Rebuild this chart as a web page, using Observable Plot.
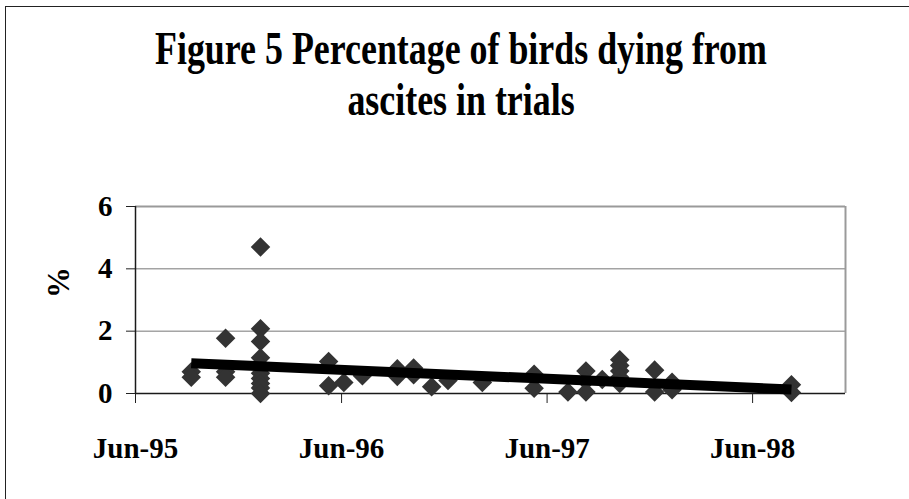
<!DOCTYPE html>
<html>
<head>
<meta charset="utf-8">
<script src="https://cdn.jsdelivr.net/npm/d3@7"></script>
<script src="https://cdn.jsdelivr.net/npm/@observablehq/plot@0.6"></script>
<style>
  body { margin: 0; background: #fff; }
  #wrap { position: relative; width: 909px; height: 499px; overflow: hidden; font-family: "Liberation Serif", "Times New Roman", serif; background: #fff; }
  #frame { position: absolute; left: 5px; top: 6px; width: 1200px; height: 1200px; border: 1px solid #222; box-sizing: border-box; }
  #title { position: absolute; left: 0; top: 23px; width: 922px; text-align: center; font-weight: bold; font-size: 46px; line-height: 51px; color: #000; white-space: nowrap; transform: scaleX(0.78); transform-origin: 461px 0; }
  #chart { position: absolute; left: 0; top: 0; }
</style>
</head>
<body>
<div id="wrap">
  <div id="frame"></div>
  <div id="chart"></div>
  <div id="title">Figure 5 Percentage of birds dying from<br>ascites in trials</div>
</div>
<script>
// Trial dates and the percentage of birds dying from ascites in each trial at that date
const trialDates = [
  "1995-09-08", "1995-11-08", "1996-01-09", "1996-05-09", "1996-06-05",
  "1996-07-08", "1996-09-08", "1996-10-07", "1996-11-08", "1996-12-07",
  "1997-02-06", "1997-05-09", "1997-07-08", "1997-08-09", "1997-09-07",
  "1997-10-08", "1997-12-09", "1998-01-09", "1998-08-09"
];
const trialValues = [
  [0.70, 0.52],
  [1.77, 0.70, 0.52],
  [4.70, 2.08, 1.67, 1.15, 0.90, 0.65, 0.48, 0.32, 0.18, 0.00],
  [1.03, 0.25],
  [0.35],
  [0.57],
  [0.79, 0.55],
  [0.82, 0.60],
  [0.22],
  [0.42],
  [0.35],
  [0.62, 0.17],
  [0.05],
  [0.72, 0.40, 0.05],
  [0.45],
  [1.08, 0.90, 0.72, 0.52, 0.32],
  [0.75, 0.05],
  [0.36, 0.12],
  [0.28, 0.03]
];
// Linear trend line end points
const trendDates = ["1995-09-08", "1998-08-09"];
const trendValues = [0.97, 0.13];
// Axes
const xDomain = ["1995-06-01", "1998-11-13"];
const xTickDates = ["1995-06-01", "1996-06-01", "1997-06-01", "1998-06-01"];
const xTickLabels = ["Jun-95", "Jun-96", "Jun-97", "Jun-98"];
const yTicks = [0, 2, 4, 6];
const yTickLabels = ["0", "2", "4", "6"];
const yLabel = "%";

const points = trialDates.flatMap((d, i) => trialValues[i].map(v => ({date: new Date(d), value: v})));
const trend = trendDates.map((d, i) => ({date: new Date(d), value: trendValues[i]}));
const tickDates = xTickDates.map(d => new Date(d));
const x0 = new Date(xDomain[0]), x1 = new Date(xDomain[1]);

const chart = Plot.plot({
  width: 909,
  height: 499,
  marginLeft: 135,
  marginRight: 64,
  marginTop: 206,
  marginBottom: 106,
  style: {fontFamily: "'Liberation Serif', 'Times New Roman', serif", fontWeight: "bold", color: "#000", background: "transparent", overflow: "visible"},
  x: {type: "utc", domain: [x0, x1]},
  y: {domain: [0, 6]},
  marks: [
    Plot.gridY([2, 4], {stroke: "#777", strokeOpacity: 1, strokeWidth: 1}),
    Plot.ruleY([6], {stroke: "#9a9a9a", strokeWidth: 2}),
    Plot.ruleX([x1], {stroke: "#9a9a9a", strokeWidth: 2}),
    Plot.axisY({ticks: yTicks, tickSize: 9, tickPadding: 14, fontSize: 29, fontWeight: "bold", label: null, stroke: "#222",
      tickFormat: d => yTickLabels[yTicks.indexOf(d)]}),
    Plot.axisX({ticks: tickDates, tickSize: 10, tickPadding: 34, fontSize: 29, fontWeight: "bold", label: null, stroke: "#222",
      tickFormat: d => xTickLabels[tickDates.findIndex(t => +t === +d)]}),
    Plot.ruleY([0], {stroke: "#1a1a1a", strokeWidth: 1.5}),
    Plot.ruleX([x0], {stroke: "#1a1a1a", strokeWidth: 1.5}),
    Plot.text([yLabel], {text: d => d, frameAnchor: "left", dx: -76, dy: -2, rotate: -90, fontSize: 31, fontWeight: "bold", fill: "#000"}),
    Plot.dot(points, {x: "date", y: "value", symbol: "diamond2", r: 8.8, fill: "#333", stroke: "none"}),
    Plot.line(trend, {x: "date", y: "value", stroke: "#000", strokeWidth: 10, strokeLinecap: "butt"})
  ]
});
document.getElementById("chart").appendChild(chart);
</script>
</body>
</html>
